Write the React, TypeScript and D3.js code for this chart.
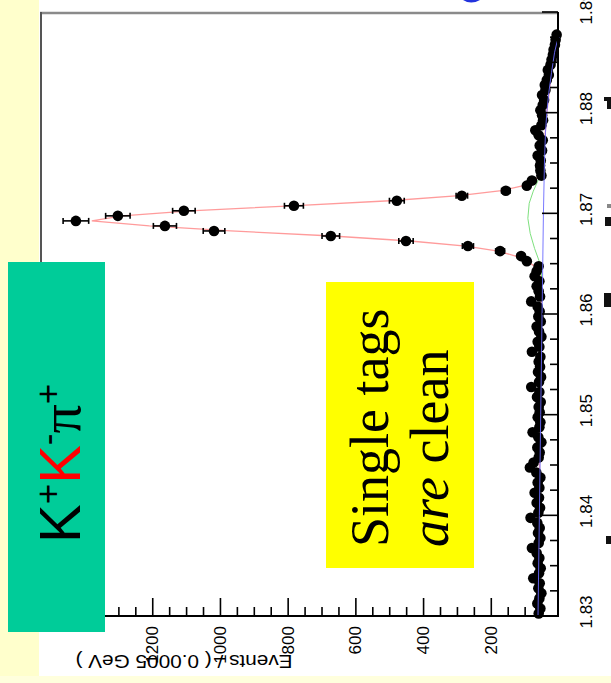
import React from 'react';
import * as d3 from 'd3';

// Beam-constrained mass histogram for K+K-pi+ single tags, drawn rotated
// (mass runs up the right-hand axis, events grow to the left).

const MASS_MIN = 1.83;
const MASS_MAX = 1.89;
const BIN_WIDTH = 0.0005;
const EVENTS_MAX = 1533;

// Events per 0.0005 GeV bin, 120 bins from 1.83 to 1.89
const counts = [
  60, 55, 64, 58, 52, 61, 57, 76, 59, 54,
  63, 58, 66, 80, 60, 55, 62, 57, 64, 84,
  61, 56, 66, 59, 72, 58, 63, 55, 67, 86,
  75, 60, 57, 64, 52, 61, 78, 58, 55, 63,
  57, 60, 54, 65, 58, 82, 59, 53, 62, 56,
  60, 55, 80, 58, 63, 52, 59, 66, 54, 61,
  57, 63, 82, 56, 60, 66, 58, 72, 66, 60,
  95, 112, 174, 269, 452, 674, 1019, 1164, 1427, 1303,
  1108, 783, 479, 287, 157, 95, 80, 52, 55, 56,
  54, 63, 50, 57, 48, 60, 70, 52, 47, 50,
  55, 48, 44, 50, 40, 42, 36, 30, 33, 25,
  22, 18, 16, 12, 10, 7, 0, 0, 0, 0,
];

const massTicks = [1.83, 1.84, 1.85, 1.86, 1.87, 1.88, 1.89];
const massTickLabels = ['1.83', '1.84', '1.85', '1.86', '1.87', '1.88', '1.89'];
const eventTicks = [200, 400, 600, 800, 1000, 1200];

// Total fit (signal + background) across the peak
const totalFitMass = [
  1.83, 1.86275, 1.86325, 1.86375, 1.86425, 1.86475, 1.86525, 1.86575, 1.86625,
  1.86675, 1.86725, 1.86775, 1.86825, 1.86875, 1.86925, 1.86975, 1.87025,
  1.87075, 1.87125, 1.87175, 1.87225, 1.87275, 1.87325, 1.87375, 1.87425,
  1.87475, 1.87525, 1.88, 1.884, 1.886, 1.887, 1.8875,
];
const totalFitEvents = [
  62, 52, 53, 55, 60, 72, 95, 128, 180,
  275, 440, 670, 970, 1210, 1380, 1290, 1090,
  790, 500, 295, 170, 105, 72, 58, 51,
  48, 47, 36, 22, 13, 6, 0,
];

// Background component
const bkgFitMass = [1.83, 1.84, 1.85, 1.86, 1.87, 1.875, 1.878, 1.88, 1.882, 1.884, 1.886, 1.887, 1.8875];
const bkgFitEvents = [62, 58, 54, 50, 46, 43, 40, 36, 30, 22, 13, 6, 0];

// Background plus broad signal component
const broadFitMass = [1.862, 1.864, 1.8652, 1.8665, 1.868, 1.8695, 1.871, 1.8722, 1.8734, 1.8745, 1.876];
const broadFitEvents = [50, 52, 58, 72, 85, 92, 88, 76, 60, 50, 46];

const W = 611;
const H = 683;

export default function App() {
  const y = d3.scaleLinear().domain([MASS_MIN, MASS_MAX]).range([616, 12]);
  const x = d3.scaleLinear().domain([0, EVENTS_MAX]).range([559, 40]);

  const bins = counts.map((n, i) => ({
    m: MASS_MIN + BIN_WIDTH * (i + 0.5),
    n,
  }));

  const curve = d3
    .line<[number, number]>()
    .x((d) => x(d[1]))
    .y((d) => y(d[0]));

  const zip = (ms: number[], ns: number[]) => ms.map((m, i) => [m, ns[i]] as [number, number]);

  const massMinor = d3.range(0, 25).map((k) => MASS_MIN + k * 0.0025);
  const eventMinor = d3.range(50, EVENTS_MAX, 50);

  const labelFont = '"Liberation Sans", Arial, sans-serif';
  const serif = '"Liberation Serif", "Times New Roman", serif';

  return (
    <svg
      width={W}
      height={H}
      style={{ position: 'absolute', left: 0, top: 0, background: '#ffffff' }}
    >
      {/* slide background */}
      <rect x={0} y={0} width={W} height={H} fill="#ffffff" />
      <rect x={0} y={0} width={39} height={H} fill="#ffffcc" />
      <rect x={0} y={676} width={W} height={H - 676} fill="#ffffdd" />

      {/* fragments of slide title text at the edges */}
      <path d="M463,0 Q471,5 480,0 Z" fill="#2233dd" />
      <rect x={604} y={97} width={7} height={4} fill="#111" />
      <rect x={607} y={97} width={4} height={12} fill="#111" />
      <rect x={605} y={217} width={6} height={9} fill="#111" />
      <rect x={607} y={204} width={4} height={4} fill="#888" />
      <rect x={604} y={293} width={7} height={14} fill="#111" />
      <rect x={606} y={536} width={5} height={8} fill="#111" />

      {/* frame */}
      <line x1={40} x2={558} y1={13} y2={13} stroke="#8a8a8a" strokeWidth={2.5} />
      <line x1={41} x2={41} y1={12} y2={616} stroke="#555" strokeWidth={2} />

      {/* fit curves under the data */}
      <path d={curve(zip(totalFitMass, totalFitEvents)) ?? ''} fill="none" stroke="#ff8a8a" strokeWidth={1.3} opacity={0.85} />
      <path d={curve(zip(broadFitMass, broadFitEvents)) ?? ''} fill="none" stroke="#7ee07e" strokeWidth={1} />

      {/* data points with error bars */}
      <g>
        {bins
          .filter((b) => b.n > 0)
          .map((b, i) => {
            const cx = x(b.n);
            const cy = y(b.m);
            const err = Math.sqrt(b.n);
            const xl = x(b.n + err);
            const xr = x(Math.max(0, b.n - err));
            return (
              <g key={i}>
                <line x1={xl} x2={xr} y1={cy} y2={cy} stroke="#000" strokeWidth={1.6} />
                <line x1={xl} x2={xl} y1={cy - 3} y2={cy + 3} stroke="#000" strokeWidth={1.6} />
                <line x1={xr} x2={xr} y1={cy - 3} y2={cy + 3} stroke="#000" strokeWidth={1.6} />
                <line
                  x1={cx}
                  x2={cx}
                  y1={y(b.m - BIN_WIDTH / 2)}
                  y2={y(b.m + BIN_WIDTH / 2)}
                  stroke="#000"
                  strokeWidth={1.6}
                />
                <circle cx={cx} cy={cy} r={5.3} fill="#000" />
              </g>
            );
          })}
      </g>

      {/* background curve over the data */}
      <path d={curve(zip(bkgFitMass, bkgFitEvents)) ?? ''} fill="none" stroke="#6a6aff" strokeWidth={1} opacity={0.9} />

      {/* mass axis (right) */}
      <line x1={558} x2={558} y1={12} y2={617} stroke="#000" strokeWidth={2} />
      {massMinor.map((m, i) => (
        <line key={i} x1={558} x2={558 - (i % 4 === 0 ? 16 : 8)} y1={y(m)} y2={y(m)} stroke="#000" strokeWidth={1.6} />
      ))}
      {massTicks.map((m, i) => (
        <text
          key={i}
          transform={`translate(586,${y(m) - 4}) rotate(-90)`}
          textAnchor="middle"
          dominantBaseline="central"
          fontFamily={labelFont}
          fontSize={17}
          fill="#000"
        >
          {massTickLabels[i]}
        </text>
      ))}

      {/* events axis (bottom) */}
      <line x1={40} x2={559} y1={616} y2={616} stroke="#000" strokeWidth={2} />
      {eventMinor.map((v, i) => (
        <line key={i} x1={x(v)} x2={x(v)} y1={616} y2={616 - (v % 200 === 0 ? 18 : 9)} stroke="#000" strokeWidth={1.6} />
      ))}
      {eventTicks.map((v, i) => (
        <text
          key={i}
          transform={`translate(${x(v)},626) rotate(-90)`}
          textAnchor="end"
          dominantBaseline="central"
          fontFamily={labelFont}
          fontSize={17}
          fill="#000"
        >
          {v}
        </text>
      ))}
      <text
        transform="translate(184,661) rotate(180)"
        textAnchor="middle"
        dominantBaseline="central"
        fontFamily={labelFont}
        fontSize={19}
        textLength={217}
        lengthAdjust="spacingAndGlyphs"
        fill="#000"
      >
        Events / ( 0.0005 GeV )
      </text>

      {/* decay mode label */}
      <rect x={8} y={262} width={97} height={370} fill="#00cc99" />
      <text transform="translate(80,543) rotate(-90)" fontFamily={labelFont} fontSize={58} fill="#000">
        <tspan>K</tspan>
        <tspan fontSize={35} dy={-20}>+</tspan>
        <tspan fill="#ff0000" dy={20}>K</tspan>
        <tspan fontSize={35} dy={-20}>-</tspan>
        <tspan fontFamily={serif} dy={20}>π</tspan>
        <tspan fontSize={35} dy={-20}>+</tspan>
      </text>

      {/* annotation */}
      <rect x={326} y={282} width={148} height={286} fill="#ffff00" />
      <text transform="translate(388,547) rotate(-90)" fontFamily={serif} fontSize={54} fill="#000">
        Single tags
      </text>
      <text transform="translate(448,547) rotate(-90)" fontFamily={serif} fontSize={54} fill="#000">
        <tspan fontStyle="italic">are</tspan> clean
      </text>
    </svg>
  );
}
